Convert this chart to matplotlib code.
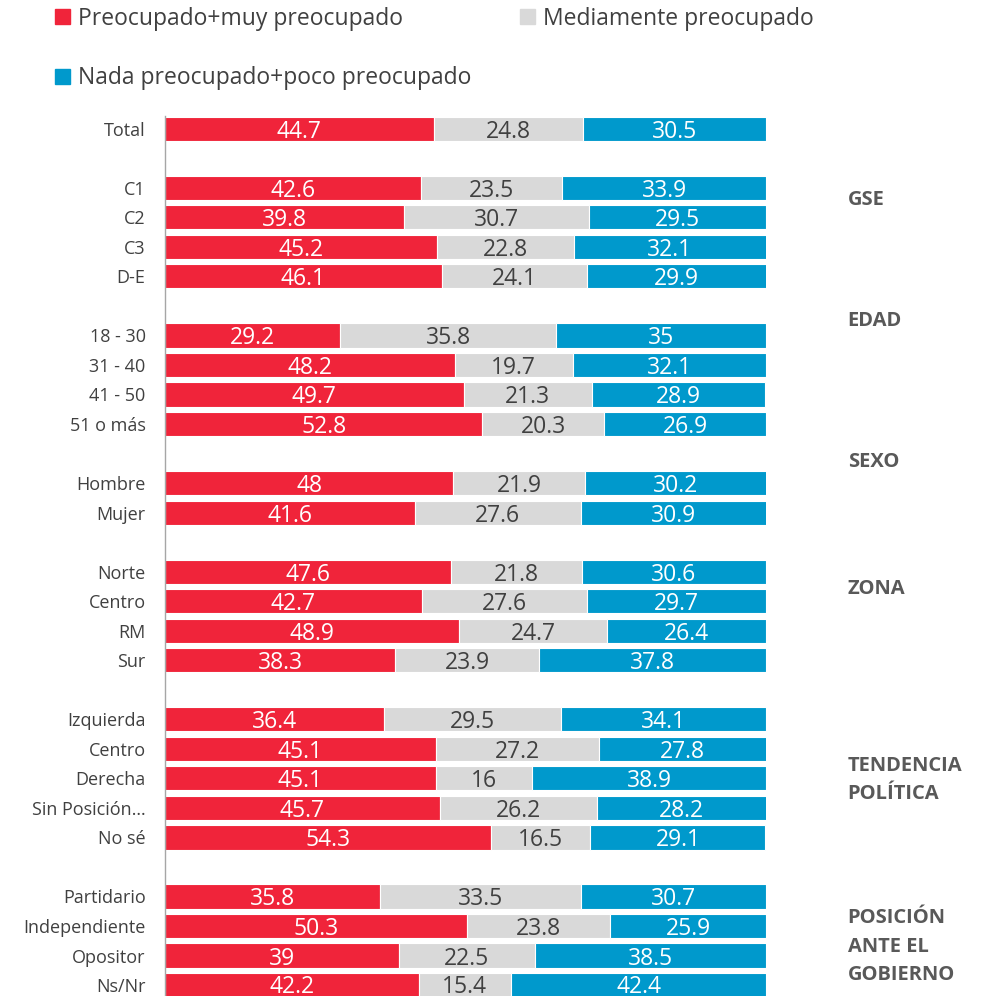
import matplotlib.pyplot as plt
import numpy as np
from matplotlib.patches import Patch

plt.rcParams['font.family'] = ['Open Sans', 'DejaVu Sans']

# filas (las vacias separan grupos)
filas = ["Total", "",
         "C1", "C2", "C3", "D-E", "",
         "18 - 30", "31 - 40", "41 - 50", "51 o más", "",
         "Hombre", "Mujer", "",
         "Norte", "Centro", "RM", "Sur", "",
         "Izquierda", "Centro", "Derecha", "Sin Posición…", "No sé", "",
         "Partidario", "Independiente", "Opositor", "Ns/Nr"]

preocupado = [44.7, None,
              42.6, 39.8, 45.2, 46.1, None,
              29.2, 48.2, 49.7, 52.8, None,
              48, 41.6, None,
              47.6, 42.7, 48.9, 38.3, None,
              36.4, 45.1, 45.1, 45.7, 54.3, None,
              35.8, 50.3, 39, 42.2]
mediamente = [24.8, None,
              23.5, 30.7, 22.8, 24.1, None,
              35.8, 19.7, 21.3, 20.3, None,
              21.9, 27.6, None,
              21.8, 27.6, 24.7, 23.9, None,
              29.5, 27.2, 16, 26.2, 16.5, None,
              33.5, 23.8, 22.5, 15.4]
nada = [30.5, None,
        33.9, 29.5, 32.1, 29.9, None,
        35, 32.1, 28.9, 26.9, None,
        30.2, 30.9, None,
        30.6, 29.7, 26.4, 37.8, None,
        34.1, 27.8, 38.9, 28.2, 29.1, None,
        30.7, 25.9, 38.5, 42.4]

grupos = ["GSE", "EDAD", "SEXO", "ZONA", "TENDENCIA\nPOLÍTICA", "POSICIÓN\nANTE EL\nGOBIERNO"]
grupos_y = [2.4, 6.5, 11.3, 15.6, 22.05, 27.7]

rojo = "#F0243A"
gris = "#D9D9D9"
azul = "#0099CC"

def etiqueta(v):
    if v is None:
        return ""
    if float(v).is_integer():
        return str(int(v))
    return str(v)

y = np.arange(len(filas))
a = np.array([np.nan if v is None else v for v in preocupado])
b = np.array([np.nan if v is None else v for v in mediamente])
c = np.array([np.nan if v is None else v for v in nada])

fig = plt.figure(figsize=(9.92, 9.96), dpi=100)
ax = fig.add_axes([0.1663, 0.0, 0.6058, 0.8835])

h = 0.82
b1 = ax.barh(y, a, height=h, color=rojo, edgecolor="white", linewidth=0.8)
b2 = ax.barh(y, b, left=a, height=h, color=gris, edgecolor="white", linewidth=0.8)
b3 = ax.barh(y, c, left=a + b, height=h, color=azul, edgecolor="white", linewidth=0.8)

textos = []
textos += ax.bar_label(b1, labels=[etiqueta(v) for v in preocupado], label_type="center",
                       color="white", fontsize=16.5)
textos += ax.bar_label(b2, labels=[etiqueta(v) for v in mediamente], label_type="center",
                       color="#404040", fontsize=16.5)
textos += ax.bar_label(b3, labels=[etiqueta(v) for v in nada], label_type="center",
                       color="white", fontsize=16.5)
for t in textos:
    t.set_va("center_baseline")

ax.set_xlim(0, 100)
ax.set_ylim(29.37, -0.43)
ax.set_yticks(y)
ax.set_yticklabels(filas, fontsize=13, color="#404040")
ax.tick_params(axis="y", length=0, pad=14)
ax.set_xticks([])
for s in ["top", "right", "bottom"]:
    ax.spines[s].set_visible(False)
ax.spines["left"].set_color("#A6A6A6")
ax.spines["left"].set_linewidth(1)

for g, gy in zip(grupos, grupos_y):
    ax.text(1.136, gy, g, transform=ax.get_yaxis_transform(), ha="left", va="center",
            fontsize=14.5, fontweight="bold", color="#595959", linespacing=1.55)

handles = [Patch(color=rojo), Patch(color=azul), Patch(color=gris)]
nombres = ["Preocupado+muy preocupado", "Nada preocupado+poco preocupado", "Mediamente preocupado"]
fig.legend(handles, nombres, ncol=2, loc="upper left", bbox_to_anchor=(0.035, 1.014),
           frameon=False, fontsize=16.5, handlelength=0.65, handleheight=0.65,
           handletextpad=0.35, labelspacing=1.55, columnspacing=2.1, labelcolor="#404040")

fig.savefig("out.png", dpi=100)
